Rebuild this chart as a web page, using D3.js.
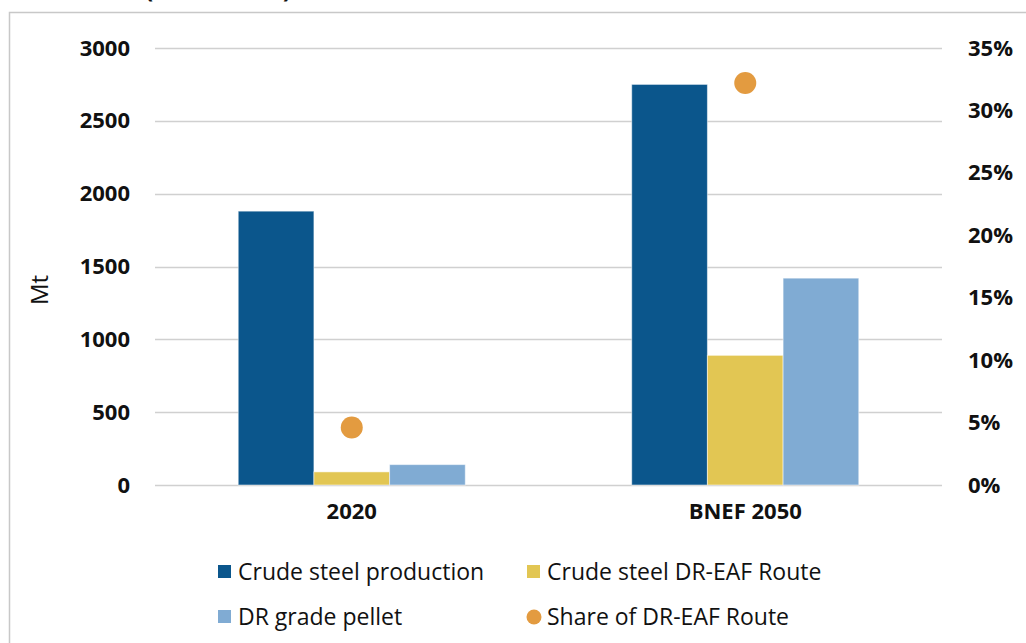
<!DOCTYPE html>
<meta charset="utf-8">
<style>
body { margin: 0; background: #fff; }
.axis text { font-family: "Open Sans", sans-serif; font-weight: bold; font-size: 22px; fill: #111; }
.axis path, .axis line { display: none; }
.grid line { stroke: #d0d0d0; stroke-width: 1.5; }
.legend text { font-family: "Open Sans", sans-serif; font-size: 23px; fill: #111; }
</style>
<svg width="1026" height="643"></svg>
<script src="https://d3js.org/d3.v7.min.js"></script>
<script>

// chart data
var categories = ["2020", "BNEF 2050"];
var crudeSteel = [1880, 2750];      // Mt
var drEafSteel = [90, 890];         // Mt
var drPellet = [140, 1420];         // Mt
var drEafShare = [0.046, 0.322];    // share, right axis

var leftTicks = [0, 500, 1000, 1500, 2000, 2500, 3000];
var rightTicks = [0, 0.05, 0.10, 0.15, 0.20, 0.25, 0.30, 0.35];

var seriesNames = ["Crude steel production", "Crude steel DR-EAF Route", "DR grade pellet"];
var seriesColors = ["#0b568c", "#e2c653", "#80abd3"];
var dotName = "Share of DR-EAF Route";
var dotColor = "#e39b40";

var svg = d3.select("svg"),
    margin = {top: 48, right: 84, bottom: 158, left: 155},
    width = svg.attr("width") - margin.left - margin.right,
    height = svg.attr("height") - margin.top - margin.bottom;

// outer frame (chart box cut at the top)
svg.append("path")
    .attr("d", "M9.5,643 V12.5 H1026")
    .attr("fill", "none")
    .attr("stroke", "#c8c8c8")
    .attr("stroke-width", 1.5);

// title, mostly outside the picture
svg.append("text")
    .attr("x", 218)
    .attr("y", -2)
    .attr("text-anchor", "middle")
    .attr("font-family", "Open Sans, sans-serif")
    .attr("font-weight", "bold")
    .attr("font-size", 24)
    .attr("fill", "#111")
    .text("(2020 - 2050)");

var g = svg.append("g")
    .attr("transform", "translate(" + margin.left + "," + margin.top + ")");

var x0 = d3.scaleBand().domain(categories).range([0, width]).paddingInner(0).paddingOuter(0);
var x1 = d3.scaleBand().domain(d3.range(3)).range([x0.bandwidth() * 0.2115, x0.bandwidth() * 0.7885]);
var y = d3.scaleLinear().domain([0, 3000]).range([height, 0]);
var y2 = d3.scaleLinear().domain([0, 0.35]).range([height, 0]);

// gridlines
g.append("g")
    .attr("class", "grid")
  .selectAll("line")
  .data(leftTicks)
  .enter().append("line")
    .attr("x1", 0)
    .attr("x2", width)
    .attr("y1", function(d) { return Math.round(y(d)) + 0.5; })
    .attr("y2", function(d) { return Math.round(y(d)) + 0.5; });

// bars
var rows = categories.map(function(c, i) {
  return [crudeSteel[i], drEafSteel[i], drPellet[i]];
});

var groups = g.selectAll(".grp")
  .data(rows)
  .enter().append("g")
    .attr("class", "grp")
    .attr("transform", function(d, i) { return "translate(" + x0(categories[i]) + ",0)"; });

groups.selectAll("rect")
  .data(function(d) { return d; })
  .enter().append("rect")
    .attr("x", function(d, j) { return x1(j); })
    .attr("width", x1.bandwidth())
    .attr("y", function(d) { return y(d); })
    .attr("height", function(d) { return height - y(d); })
    .attr("fill", function(d, j) { return seriesColors[j]; })
    .attr("stroke", "rgba(255,255,255,0.5)")
    .attr("stroke-width", 1);

// share dots
g.selectAll(".dot")
  .data(drEafShare)
  .enter().append("circle")
    .attr("class", "dot")
    .attr("cx", function(d, i) { return x0(categories[i]) + x0.bandwidth() / 2; })
    .attr("cy", function(d) { return y2(d); })
    .attr("r", 11)
    .attr("fill", dotColor);

// axes
g.append("g")
    .attr("class", "axis")
    .call(d3.axisLeft(y).tickValues(leftTicks).tickSize(0).tickPadding(25).tickFormat(d3.format("d")));

g.append("g")
    .attr("class", "axis")
    .attr("transform", "translate(" + width + ",0)")
    .call(d3.axisRight(y2).tickValues(rightTicks).tickSize(0).tickPadding(26).tickFormat(d3.format(".0%")));

g.append("g")
    .attr("class", "axis")
    .attr("transform", "translate(0," + height + ")")
    .call(d3.axisBottom(x0).tickSize(0).tickPadding(18));

// y axis title
svg.append("text")
    .attr("transform", "translate(48,290) rotate(-90)")
    .attr("text-anchor", "middle")
    .attr("font-family", "Open Sans, sans-serif")
    .attr("font-size", 24)
    .attr("fill", "#111")
    .text("Mt");

// legend
var legend = svg.append("g").attr("class", "legend");
var legendItems = [
  {name: seriesNames[0], color: seriesColors[0], x: 218, y: 572, shape: "rect"},
  {name: seriesNames[1], color: seriesColors[1], x: 527, y: 572, shape: "rect"},
  {name: seriesNames[2], color: seriesColors[2], x: 218, y: 617, shape: "rect"},
  {name: dotName, color: dotColor, x: 527, y: 617, shape: "circle"}
];

legendItems.forEach(function(d) {
  if (d.shape === "rect") {
    legend.append("rect")
        .attr("x", d.x).attr("y", d.y - 7)
        .attr("width", 13).attr("height", 13)
        .attr("fill", d.color);
  } else {
    legend.append("circle")
        .attr("cx", d.x + 7).attr("cy", d.y)
        .attr("r", 7.5)
        .attr("fill", d.color);
  }
  legend.append("text")
      .attr("x", d.x + 20)
      .attr("y", d.y)
      .attr("dy", "0.35em")
      .text(d.name);
});

</script>
